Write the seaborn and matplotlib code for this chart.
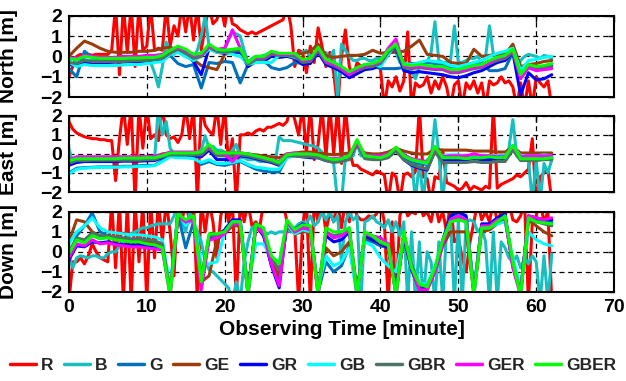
import numpy as np
import pandas as pd
import matplotlib
matplotlib.use("Agg")
import matplotlib.pyplot as plt
from matplotlib.lines import Line2D
import seaborn as sns

# ---------------- data ----------------
series_names = ["R", "B", "G", "GE", "GR", "GB", "GBR", "GER", "GBER"]
t_fine = np.arange(0, 62.01, 0.5)   # R and B
t_min = np.arange(0, 63, 1.0)       # other series

# ---- North ----
n_R = [-1.0, -0.5, 0.0, 0.1, 0.0, 0.1, 0.05, 0.1, 0.1, 0.1,
       0.1, 0.3, 2.5, -0.9, 2.5, 0.2, 2.5, -0.5, 2.5, 0.3,
       0.5, 2.5, 0.3, 0.4, 0.3, 2.5, 0.5, 1.5, 1.0, 2.5,
       1.2, 2.5, 0.8, 2.5, 0.3, 1.5, 2.5, 1.6, 1.8, 2.5,
       1.5, 2.5, 1.6, 1.5, 1.3, 1.2, 1.1, 1.2, 1.1, 1.2,
       1.3, 1.4, 1.5, 1.6, 1.7, 1.8, 2.5, 1.5, -0.5, 0.3,
       0.2, -0.8, 0.5, -0.3, 1.4, 0.5, -0.5, 0.2, -0.8, -2.5,
       0.0, 1.3, -0.5, -1.0, -0.3, -0.5, -0.4, -0.6, -0.4, -0.5,
       -0.6, -2.5, -1.2, -1.5, -1.0, -1.7, -1.2, 1.2, -2.5, -1.3,
       -1.5, -1.4, -1.0, -1.8, -1.2, -1.6, -1.0, -1.5, -2.5, -1.4,
       -1.2, -2.5, -1.3, -1.6, -1.2, -1.8, -1.3, -2.5, -1.2, -1.4,
       -1.3, -1.0, -1.3, -1.2, -1.5, -2.5, -1.3, -2.5, -1.2, -2.5,
       -1.0, -1.3, -1.5, -1.2, -2.5]
n_B = [-0.2, -0.1, -0.3, -0.2, -0.15, -0.2, -0.2, -0.25, -0.25, -0.25,
       -0.25, -0.25, -0.25, -0.25, -0.25, -0.25, -0.2, -0.2, -0.2, -0.2,
       -0.2, -0.3, -0.8, -1.5, -0.5, 0.7, 0.2, 0.1, 0.3, 0.1,
       0.0, -0.1, 0.0, 0.3, 1.0, 2.0, 0.5, 0.3, 0.3, 0.2,
       0.3, 0.8, 1.2, 1.1, 1.0, 0.3, -0.3, -0.1, 0.0, 0.0,
       0.05, 0.1, 0.1, 0.2, 0.1, 0.1, 0.1, 0.1, 0.0, 0.1,
       0.2, 0.3, 0.0, -0.1, 0.3, 0.1, 0.2, -0.1, 0.3, -2.0,
       0.6, 0.3, 0.0, -0.2, -0.2, -0.1, -0.1, -0.2, -0.2, -0.1,
       -0.1, 0.0, 0.2, 0.3, 0.2, -0.3, -0.5, -0.6, -0.7, -1.1,
       -0.5, -0.3, -0.3, 0.2, 1.7, -0.2, -0.3, -0.3, -0.2, 1.5,
       -0.3, -0.3, -0.2, -0.1, -0.1, 0.0, -0.3, 0.0, 1.5, 0.1,
       0.0, 0.1, 0.2, 0.3, 0.3, -0.7, -0.2, 0.0, 0.1, 0.05,
       0.0, -0.1, 0.05, 0.0, -0.1]
n_G = [-0.60, -1.00, 0.25, -0.05, -0.15, -0.15, -0.20, -0.20, -0.20, -0.20,
       -0.20, -0.15, -0.15, 0.05, -0.35, -0.50, -0.40, -1.55, -0.30, -0.35,
       -0.25, -0.30, -1.30, -0.40, -0.25, -0.20, -0.55, -0.65, -0.55, -0.30,
       -0.35, -0.30, 0.30, -0.30, -0.40, -0.50, -0.80, -0.60, -0.50, -0.45,
       -0.60, -0.60, -0.60, -0.55, -0.35, -0.35, -0.30, -0.35, -0.40, -0.50,
       -0.50, -0.45, -0.40, -0.30, -0.70, -0.70, -0.60, 0.20, -0.80, -0.50,
       -0.50, -0.55, -0.45]
n_GE = [0.00, 0.40, 0.75, 0.60, 0.40, 0.25, 0.20, 0.20, 0.20, 0.25,
        0.25, 0.30, 0.40, 0.45, 0.30, 0.20, -0.15, -0.45, -0.55, -0.65,
        0.10, 0.20, 0.20, -0.30, -0.10, -0.05, 0.00, 0.00, 0.05, 0.10,
        0.15, 0.25, 0.60, 0.05, -0.05, 0.00, 0.05, 0.05, 0.10, 0.30,
        0.15, 0.20, 0.20, 0.25, 0.50, 0.80, 0.10, 0.05, 0.00, -0.30,
        -0.35, -0.35, 0.35, 0.00, 0.05, 0.10, 0.10, 0.60, -0.50, -0.40,
        -0.35, -0.25, -0.20]
n_GR = [-0.40, -0.45, -0.30, -0.30, -0.30, -0.30, -0.28, -0.28, -0.25, -0.25,
        -0.25, -0.20, -0.15, 0.10, 0.30, 0.10, -0.25, -0.90, 0.40, 0.20,
        0.15, 0.20, 0.20, -0.50, -0.25, -0.25, 0.00, -0.05, 0.00, -0.10,
        -0.40, -0.35, 0.20, -0.40, -0.55, -0.75, -1.05, -0.85, -0.65, -0.60,
        -0.45, 0.10, 0.45, -0.70, -0.80, -0.75, -0.80, -0.85, -0.90, -1.00,
        -1.05, -0.95, -0.80, -0.70, -0.50, -0.30, -0.20, 0.20, -1.90, -0.80,
        -1.15, -1.10, -0.90]
n_GB = [-0.30, -0.50, -0.40, -0.45, -0.45, -0.45, -0.45, -0.42, -0.40, -0.40,
        -0.35, -0.30, -0.25, 0.10, 0.20, 0.00, -0.20, 0.00, 0.35, 0.20,
        0.20, 0.10, 0.00, -0.40, -0.30, -0.30, -0.30, 0.05, 0.05, -0.05,
        -0.20, -0.15, 0.30, -0.20, -0.35, -0.55, -0.80, -0.60, -0.45, -0.40,
        -0.50, 0.10, 0.55, -0.35, -0.40, -0.30, -0.20, -0.25, -0.30, -0.45,
        -0.50, -0.40, -0.30, -0.20, 0.00, 0.15, 0.25, 0.40, -0.70, -0.20,
        -0.15, -0.05, 0.00]
n_GBR = [-0.30, -0.35, -0.20, -0.25, -0.25, -0.25, -0.25, -0.25, -0.22, -0.20,
         -0.20, -0.15, -0.10, 0.15, 0.35, 0.15, -0.10, 0.00, 0.45, 0.25,
         0.20, 0.25, 0.30, -0.40, -0.15, -0.15, 0.10, 0.05, 0.05, 0.00,
         -0.30, -0.25, 0.30, -0.30, -0.45, -0.65, -0.90, -0.70, -0.55, -0.50,
         -0.35, 0.20, 0.50, -0.55, -0.60, -0.55, -0.60, -0.65, -0.65, -0.80,
         -0.80, -0.70, -0.60, -0.55, -0.35, -0.20, -0.10, 0.20, -1.00, -0.55,
         -0.65, -0.60, -0.50]
n_GER = [-0.05, -0.10, 0.05, 0.00, -0.05, -0.05, -0.05, 0.00, 0.00, 0.00,
         0.05, 0.05, 0.10, 0.30, 0.45, 0.30, 0.05, 0.10, 0.50, 0.35,
         0.40, 1.30, 0.40, -0.30, -0.05, -0.05, 0.20, 0.10, 0.10, 0.10,
         -0.20, -0.15, 0.40, -0.25, -0.40, -0.60, -0.90, -0.65, -0.45, -0.40,
         -0.25, 0.40, 0.85, -0.45, -0.55, -0.50, -0.55, -0.60, -0.60, -0.75,
         -0.75, -0.65, -0.55, -0.50, -0.30, -0.10, 0.00, 0.30, -1.10, -0.55,
         -0.70, -0.65, -0.60]
n_GBER = [-0.10, -0.15, 0.00, -0.05, -0.10, -0.10, -0.10, -0.10, -0.08, -0.08,
          -0.05, -0.05, 0.05, 0.30, 0.50, 0.35, 0.10, 0.15, 0.60, 0.35,
          0.30, 0.35, 0.40, -0.30, 0.00, 0.00, 0.25, 0.15, 0.15, 0.15,
          -0.15, -0.10, 0.45, -0.15, -0.30, -0.50, -0.75, -0.55, -0.40, -0.35,
          -0.20, 0.30, 0.60, -0.40, -0.45, -0.40, -0.45, -0.50, -0.50, -0.65,
          -0.65, -0.55, -0.45, -0.40, -0.20, -0.05, 0.05, 0.35, -0.90, -0.40,
          -0.50, -0.45, -0.35]

# ---- East ----
e_R = [1.7, 1.3, 1.1, 1.0, 0.9, 0.85, 0.8, 0.8, 0.75, 0.75,
       0.7, 0.7, -1.4, 0.8, 2.5, 0.5, 2.5, -2.5, 2.5, 0.3,
       2.5, 0.8, 1.0, 0.7, 2.5, 1.0, 0.8, 0.9, 0.6, 1.0,
       2.5, 0.8, 2.5, -2.5, 2.5, 1.5, 1.2, 1.0, 2.5, 0.5,
       2.5, -0.5, 0.8, -2.5, 1.0, 1.0, 1.1, 1.0, 1.2, 1.3,
       1.2, 1.4, 1.4, 1.5, 1.6, 1.5, 1.7, 2.5, 1.8, 1.0,
       2.5, 0.0, 2.5, -0.3, 0.5, 2.5, -0.2, 2.5, 0.0, 2.5,
       -0.5, 2.5, 0.2, -0.6, -0.6, -0.8, -0.9, -1.0, -1.1, -0.9,
       -1.0, -1.1, -2.5, -1.0, -1.2, -2.5, -1.1, -1.0, -1.2, -0.9,
       2.5, -1.2, -1.3, -2.5, -1.2, -1.3, 0.2, -1.5, -1.6, -1.7,
       -1.9, -1.8, -1.5, -1.9, -1.7, -1.8, -1.9, -1.7, -1.8, 2.5,
       -1.8, -1.6, -1.5, -1.4, -1.3, -1.1, -1.2, -1.0, -0.8, 0.8,
       -2.5, -1.2, -1.0, -0.8, -2.5]
e_B = [0.3, -0.5, -0.3, -0.3, -0.3, -0.3, -0.3, -0.3, -0.3, -0.3,
       -0.3, -0.3, -0.3, -0.3, -0.3, -0.3, -0.3, -0.3, -0.3, -0.3,
       -0.3, -0.3, -0.3, 2.5, 1.0, 1.7, 0.3, 0.0, 0.0, 0.0,
       0.0, 0.0, 0.0, 0.1, 0.2, 0.95, 0.3, 0.4, 0.2, 0.2,
       0.1, -0.1, 0.2, 0.5, -0.2, -0.2, -0.3, -0.3, -0.3, -0.4,
       -0.4, -0.4, -0.4, -0.4, 0.9, 0.7, 0.7, 0.7, 0.65, 0.6,
       0.55, 0.5, 0.45, 0.4, 0.3, 0.1, -0.2, -0.3, -0.5, -2.5,
       -2.5, -0.2, -0.2, -0.1, 0.6, -0.1, -0.1, -0.2, -0.2, -0.2,
       -0.2, -0.1, 0.0, 0.1, 0.2, 0.2, 0.0, -0.2, -0.3, -2.5,
       -0.3, -2.5, -0.3, -0.3, 1.8, 0.0, -2.5, -0.2, -0.1, -0.1,
       -0.1, -0.1, -0.1, -0.1, -0.1, -0.1, -0.1, -0.1, -0.1, -0.1,
       -0.1, -0.1, -0.1, 0.3, 1.8, -0.1, -0.2, -0.2, -0.3, -2.5,
       -0.3, -2.5, -0.5, -1.0, -0.3]
e_G = [-1.00, -0.75, -0.72, -0.70, -0.68, -0.68, -0.68, -0.65, -0.65, -0.62,
       -0.60, -0.60, -0.35, -0.10, -0.15, -0.15, -0.20, -0.55, -0.40, -0.55,
       -0.60, -0.50, -0.40, -0.60, -0.80, -0.90, -0.95, -0.95, -0.15, -0.05,
       -0.10, -0.10, -0.15, -0.30, -0.35, -0.30, -0.20, 0.55, -0.15, -0.20,
       -0.20, -0.10, 0.25, -0.20, -0.40, -0.50, -0.55, 0.10, -0.20, -0.20,
       -0.20, -0.20, -0.15, -0.20, -0.20, -0.20, -0.20, 0.30, -0.20, -0.20,
       -0.20, -0.20, -0.20]
e_GE = [-0.30, -0.25, -0.20, -0.20, -0.20, -0.20, -0.18, -0.18, -0.18, -0.15,
        -0.15, -0.15, 0.00, 0.05, 0.05, 0.05, 0.05, 0.05, 0.30, 0.05,
        0.05, 0.05, 0.05, 0.00, -0.05, -0.10, -0.15, -0.20, 0.00, 0.05,
        0.10, 0.10, 0.05, 0.00, -0.05, 0.00, 0.05, 0.40, 0.05, 0.00,
        0.00, 0.10, 0.30, 0.15, 0.05, 0.00, 0.00, 0.25, 0.20, 0.20,
        0.20, 0.20, 0.15, 0.15, 0.15, 0.10, 0.10, 0.35, 0.05, 0.05,
        0.05, 0.05, 0.05]
e_GR = [-0.60, -0.45, -0.40, -0.40, -0.40, -0.40, -0.40, -0.38, -0.38, -0.38,
        -0.36, -0.35, -0.20, -0.10, -0.10, -0.10, -0.10, -0.15, 0.20, -0.30,
        -0.30, -0.30, -0.10, -0.15, -0.25, -0.35, -0.45, -0.60, -0.15, -0.10,
        -0.15, -0.20, -0.20, -0.35, -0.40, -0.35, -0.25, 0.60, -0.20, -0.25,
        -0.25, -0.15, 0.20, -0.30, -0.60, -0.75, -0.85, 0.20, -0.35, -0.30,
        -0.30, -0.30, -0.25, -0.30, -0.30, -0.25, -0.25, 0.40, -0.30, -0.30,
        -0.30, -0.25, -0.25]
e_GB = [-1.05, -0.80, -0.75, -0.72, -0.70, -0.70, -0.70, -0.68, -0.68, -0.65,
        -0.65, -0.62, -0.40, -0.15, -0.20, -0.20, -0.25, -0.45, -0.30, -0.50,
        -0.50, -0.45, -0.35, -0.55, -0.70, -0.75, -0.80, -0.80, -0.20, -0.10,
        -0.05, -0.05, -0.10, -0.25, -0.30, -0.25, -0.15, 0.50, -0.10, -0.15,
        -0.15, -0.10, 0.20, -0.10, -0.30, -0.40, -0.50, 0.20, -0.10, -0.05,
        -0.05, -0.10, -0.05, -0.10, -0.10, -0.10, -0.10, 0.40, -0.10, -0.10,
        -0.10, -0.05, -0.10]
e_GBR = [-0.50, -0.35, -0.35, -0.33, -0.33, -0.33, -0.33, -0.33, -0.33, -0.33,
         -0.30, -0.30, -0.15, -0.05, -0.05, -0.05, -0.05, -0.05, 0.30, -0.10,
         -0.10, -0.15, -0.05, -0.10, -0.20, -0.30, -0.40, -0.55, -0.10, -0.10,
         -0.15, -0.15, -0.20, -0.35, -0.45, -0.40, -0.30, 0.50, -0.25, -0.30,
         -0.30, -0.20, 0.15, -0.30, -0.55, -0.70, -0.80, 0.10, -0.45, -0.45,
         -0.45, -0.45, -0.40, -0.45, -0.45, -0.40, -0.40, 0.20, -0.35, -0.35,
         -0.35, -0.30, -0.30]
e_GER = [-0.30, -0.15, -0.15, -0.15, -0.15, -0.15, -0.15, -0.15, -0.15, -0.15,
         -0.15, -0.12, -0.05, 0.10, 0.10, 0.10, 0.10, 0.10, 0.40, 0.05,
         0.00, -0.40, 0.05, 0.00, -0.10, -0.20, -0.30, -0.40, 0.00, 0.05,
         0.00, 0.00, -0.05, -0.20, -0.25, -0.20, -0.10, 0.60, -0.05, -0.10,
         -0.10, 0.00, 0.30, -0.05, -0.25, -0.35, -0.40, 0.30, -0.15, -0.10,
         -0.10, -0.10, 0.00, -0.10, -0.10, -0.15, -0.15, 0.35, -0.15, -0.10,
         -0.10, -0.10, -0.10]
e_GBER = [-0.35, -0.25, -0.25, -0.25, -0.25, -0.25, -0.25, -0.22, -0.22, -0.22,
          -0.20, -0.20, -0.10, 0.05, 0.05, 0.05, 0.05, 0.10, 0.50, 0.05,
          0.05, 0.05, 0.05, 0.00, -0.10, -0.20, -0.30, -0.45, -0.05, 0.00,
          0.00, 0.00, -0.05, -0.20, -0.30, -0.25, -0.10, 0.75, -0.10, -0.15,
          -0.20, -0.05, 0.35, -0.10, -0.30, -0.40, -0.45, 0.40, -0.20, -0.20,
          -0.20, -0.25, -0.20, -0.20, -0.15, -0.20, -0.20, 0.45, -0.25, -0.25,
          -0.25, -0.25, -0.20]

# ---- Down ----
d_R = [-2.5, -0.5, -0.5, -0.3, -0.6, -0.2, 0.4, 0.0, -0.3, -0.4,
       -0.5, 2.5, -0.8, 2.5, -2.5, 2.5, -2.5, 2.5, -0.5, 2.5,
       -2.5, 2.5, -0.3, 2.5, 0.5, 2.5, 1.0, -1.2, 2.5, 1.5,
       2.5, 1.5, 2.5, -2.5, 2.5, 1.0, 2.5, 1.5, -0.3, 1.8,
       2.5, 1.5, 2.5, -2.5, 2.5, 1.5, 2.5, 1.3, 1.5, 1.2,
       2.5, 2.5, 2.5, 2.5, 2.5, 2.5, 1.5, 1.2, 1.2, -2.5,
       1.3, 2.5, -2.5, 2.5, 1.5, 2.5, 1.0, 2.0, 1.5, 2.5,
       1.2, 2.5, 1.5, 2.5, 1.8, 1.6, 1.6, 1.8, 1.7, 1.9,
       2.5, 1.5, -2.5, 1.5, -2.5, 1.8, 2.5, 1.8, 2.0, 1.9,
       2.5, 1.8, 2.0, 1.5, 2.5, 1.5, 2.0, 1.0, 2.5, 0.5,
       0.7, -0.3, -1.0, 0.5, 1.5, 2.5, 1.6, 2.0, 1.5, 2.5,
       1.5, 2.0, 1.8, 2.5, 1.6, 1.5, 1.8, 2.5, -2.5, 1.5,
       1.8, 2.5, 1.5, 2.0, -2.5]
d_B = [-0.2, -0.8, -0.3, -0.2, -0.25, -0.3, -0.2, -0.2, -0.3, -0.3,
       -0.1, 0.0, 0.0, 0.3, 0.5, 0.7, 0.9, 1.0, 1.1, 1.2,
       1.2, 1.3, 1.35, 1.4, 1.4, 1.4, 1.4, 1.8, 2.5, 1.5,
       1.0, 2.0, 1.5, 1.0, 0.5, -0.5, -0.9, -1.0, -1.2, -1.4,
       -1.6, -1.8, -2.5, -1.5, -2.5, -0.5, 0.5, 1.2, 1.3, 1.2,
       1.0, 0.9, 1.0, 0.9, 1.0, 1.0, 1.1, 1.0, 1.2, 1.4,
       1.5, 1.4, 1.8, 1.3, 1.5, 2.0, 1.6, 2.0, 1.5, 1.8,
       -0.5, 1.5, 2.0, 1.6, 1.8, -2.5, 1.5, 1.6, 1.8, 1.5,
       1.4, 1.2, 1.6, 1.0, 1.5, 0.8, 1.5, -2.5, 1.0, -2.5,
       0.5, -2.5, 0.0, -0.5, -2.5, 0.5, -2.5, 1.2, 1.5, -2.5,
       1.6, -2.5, 1.5, 1.6, 1.5, 1.0, 1.2, 0.5, -2.5, 1.0,
       -2.5, 0.5, 0.2, -0.3, -0.5, -0.2, -0.8, -0.3, -0.6, -0.2,
       -0.5, -2.5, -0.2, -2.5, -0.1]
d_G = [-0.5, 0.8, 1.3, 1.95, 1.0, 0.8, 0.7, 0.65, 0.6, 0.6,
       0.55, 0.5, 0.4, -2.0, 1.9, 0.2, 1.5, -1.2, 0.6, 0.7,
       1.0, 1.5, 1.5, -2.0, 1.3, 0.8, -0.6, -1.5, 1.4, 1.0,
       1.2, 1.1, -2.0, -0.5, -1.0, -0.7, 0.3, -2.0, 0.6, 0.5,
       0.3, 0.2, -2.0, 0.8, -0.8, -1.8, -1.8, -0.9, 0.5, 1.7,
       1.9, 1.7, -2.0, 1.3, 1.3, 1.6, 1.8, -0.7, -2.0, 1.7,
       1.6, 1.5, 1.5]
d_GE = [0.5, 1.6, 1.5, 1.0, 0.8, 0.75, 0.7, 0.65, 0.6, 0.6,
        0.55, 0.5, 0.35, -2.0, 1.7, 1.4, 1.6, -1.5, -1.2, 0.6,
        0.9, 1.3, 1.3, -2.0, 1.2, 0.9, -0.5, -1.2, 1.3, 0.9,
        1.0, 1.0, -2.0, 0.2, -0.2, 0.0, 0.5, -2.0, 0.7, 0.6,
        0.4, 0.2, -2.0, 0.7, -0.9, -1.9, -1.9, -1.0, 0.3, 1.0,
        1.0, 1.0, -2.0, 1.0, 1.1, 1.4, 1.6, -0.6, -2.0, 1.6,
        1.3, 1.0, 0.8]
d_GR = [-0.4, 0.3, 0.25, 0.5, 0.45, 0.5, 0.4, 0.35, 0.35, 0.35,
        0.3, 0.25, 0.2, -2.0, 1.9, 1.3, 1.7, -1.5, 0.7, 0.8,
        1.1, 1.6, 1.6, -2.0, 1.4, 0.8, -0.7, -1.8, 1.5, 1.1,
        1.4, 1.2, -2.0, 0.8, 0.5, 0.6, 1.0, -2.0, 0.8, 0.6,
        0.4, 0.2, -2.0, 0.8, -0.9, -1.8, -1.8, -0.9, 0.6, 1.8,
        2.0, 1.8, -2.0, 1.4, 1.4, 1.7, 1.9, -0.7, -2.0, 1.8,
        1.7, 1.6, 1.6]
d_GB = [0.4, 1.0, 1.3, 1.7, 1.2, 1.0, 0.95, 0.9, 0.85, 0.85,
        0.8, 0.75, 0.6, -1.8, 1.9, 1.3, 1.7, -0.6, -0.6, -0.5,
        1.0, 1.5, 1.5, -1.8, 0.4, 0.4, -0.3, -0.5, 1.4, 0.9,
        1.1, 1.0, -1.8, -0.2, -0.7, -0.5, 0.2, -2.2, 0.5, 0.3,
        -0.3, -0.7, -1.0, 0.8, -0.5, -1.6, -1.6, -0.7, 0.5, 1.6,
        1.8, 1.6, -1.8, 1.2, 1.2, 1.4, 1.5, -0.3, -1.8, 1.0,
        0.6, 0.4, 0.3]
d_GBR = [0.0, 0.7, 0.6, 0.95, 0.8, 0.8, 0.75, 0.7, 0.65, 0.65,
         0.6, 0.55, 0.4, -2.0, 1.8, 1.5, 1.7, -1.3, 0.8, 0.8,
         1.0, 1.4, 1.4, -2.0, 1.3, 1.0, -0.3, -0.9, 1.5, 1.0,
         1.2, 1.2, -2.0, 1.0, 0.8, 0.9, 1.2, -2.0, 0.9, 0.75,
         0.45, 0.3, -2.0, 0.9, -0.6, -1.7, -1.7, -0.9, 0.5, 1.5,
         1.7, 1.5, -2.0, 1.2, 1.2, 1.5, 1.7, -0.6, -2.0, 1.6,
         1.5, 1.4, 1.3]
d_GER = [-0.3, 0.4, 0.3, 0.6, 0.4, 0.45, 0.35, 0.3, 0.25, 0.25,
         0.2, 0.15, 0.1, -2.2, 1.8, 1.5, 1.6, -1.9, 0.6, 0.7,
         0.9, 1.4, 1.4, -2.2, 1.3, 0.9, -0.6, -1.7, 1.5, 1.0,
         1.2, 1.1, -2.2, 1.0, 0.7, 0.8, 1.1, -2.2, 0.9, 0.8,
         0.7, 0.4, -2.2, 0.9, -0.8, -1.9, -1.9, -1.0, 0.4, 1.6,
         1.8, 1.6, -2.2, 1.3, 1.3, 1.6, 1.7, -0.8, -2.2, 1.8,
         1.7, 1.6, 1.7]
d_GBER = [-0.1, 0.6, 0.45, 0.8, 0.65, 0.7, 0.6, 0.55, 0.5, 0.5,
          0.4, 0.35, 0.2, -2.2, 1.9, 1.6, 1.8, -1.5, 0.9, 0.9,
          1.0, 1.5, 1.5, -2.2, 1.4, 1.2, -0.2, -0.6, 1.6, 1.1,
          1.35, 1.3, -2.2, 1.2, 1.0, 1.0, 1.2, -2.2, 1.0, 0.8,
          0.5, 0.35, -2.2, 1.0, -0.8, -1.6, -1.75, -0.8, 0.6, 1.5,
          1.6, 1.5, -2.2, 1.2, 1.2, 1.5, 1.8, -0.5, -2.2, 1.7,
          1.5, 1.45, 1.4]

panels = [
    ("North [m]", [n_R, n_B, n_G, n_GE, n_GR, n_GB, n_GBR, n_GER, n_GBER]),
    ("East [m]", [e_R, e_B, e_G, e_GE, e_GR, e_GB, e_GBR, e_GER, e_GBER]),
    ("Down [m]", [d_R, d_B, d_G, d_GE, d_GR, d_GB, d_GBR, d_GER, d_GBER]),
]
x_ticks = [0, 10, 20, 30, 40, 50, 60, 70]
y_ticks = [-2, -1, 0, 1, 2]
x_label = "Observing Time [minute]"

palette = {
    "R": "#ff0000", "B": "#17bfbf", "G": "#0072bd", "GE": "#9a3d0c",
    "GR": "#0000ff", "GB": "#00ffff", "GBR": "#4d7366", "GER": "#ff00ff",
    "GBER": "#00ff00",
}

# ---------------- plot ----------------
sns.set_theme(style="white")
plt.rcParams["font.family"] = ["Liberation Sans", "DejaVu Sans"]
plt.rcParams["font.weight"] = "bold"

fig = plt.figure(figsize=(6.26, 3.81), dpi=100)
positions = [
    [0.110, 0.745, 0.871, 0.214],
    [0.110, 0.496, 0.871, 0.200],
    [0.110, 0.234, 0.871, 0.210],
]

for i, (ylab, vals) in enumerate(panels):
    ax = fig.add_axes(positions[i])
    frames = []
    for name, v in zip(series_names, vals):
        t = t_fine if name in ("R", "B") else t_min
        frames.append(pd.DataFrame({"t": t, "v": v, "s": name}))
    df = pd.concat(frames, ignore_index=True)
    sns.lineplot(data=df, x="t", y="v", hue="s", hue_order=series_names,
                 palette=palette, ax=ax, legend=False, linewidth=2.2,
                 estimator=None, sort=False)
    ax.set_xlim(0, 70)
    ax.set_ylim(-2, 2)
    ax.set_xticks(x_ticks)
    ax.set_yticks(y_ticks)
    ax.set_axisbelow(True)
    ax.grid(True, linestyle=(0, (4, 3)), color="black", linewidth=0.9)
    for sp in ax.spines.values():
        sp.set_color("black")
        sp.set_linewidth(1.5)
    ax.tick_params(direction="in", length=4, width=1, top=True, right=True,
                   labelsize=14, pad=5, colors="black")
    for lab in ax.get_xticklabels() + ax.get_yticklabels():
        lab.set_fontweight("bold")
    ax.set_ylabel(ylab, fontsize=15, fontweight="bold", color="black")
    ax.yaxis.set_label_coords(-0.093, 0.5)
    if i < 2:
        ax.tick_params(labelbottom=False)
        ax.set_xlabel("")
    else:
        ax.set_xlabel(x_label, fontsize=15, fontweight="bold", color="black",
                      labelpad=3)

handles = [Line2D([0], [0], color=palette[n], lw=2.5) for n in series_names]
fig.legend(handles, series_names, loc="center", bbox_to_anchor=(0.5, 0.04),
           ncol=9, frameon=False, handlelength=1.5, handletextpad=0.3,
           columnspacing=0.6, prop={"weight": "bold", "size": 12.5})

fig.savefig("out.png", dpi=100)
